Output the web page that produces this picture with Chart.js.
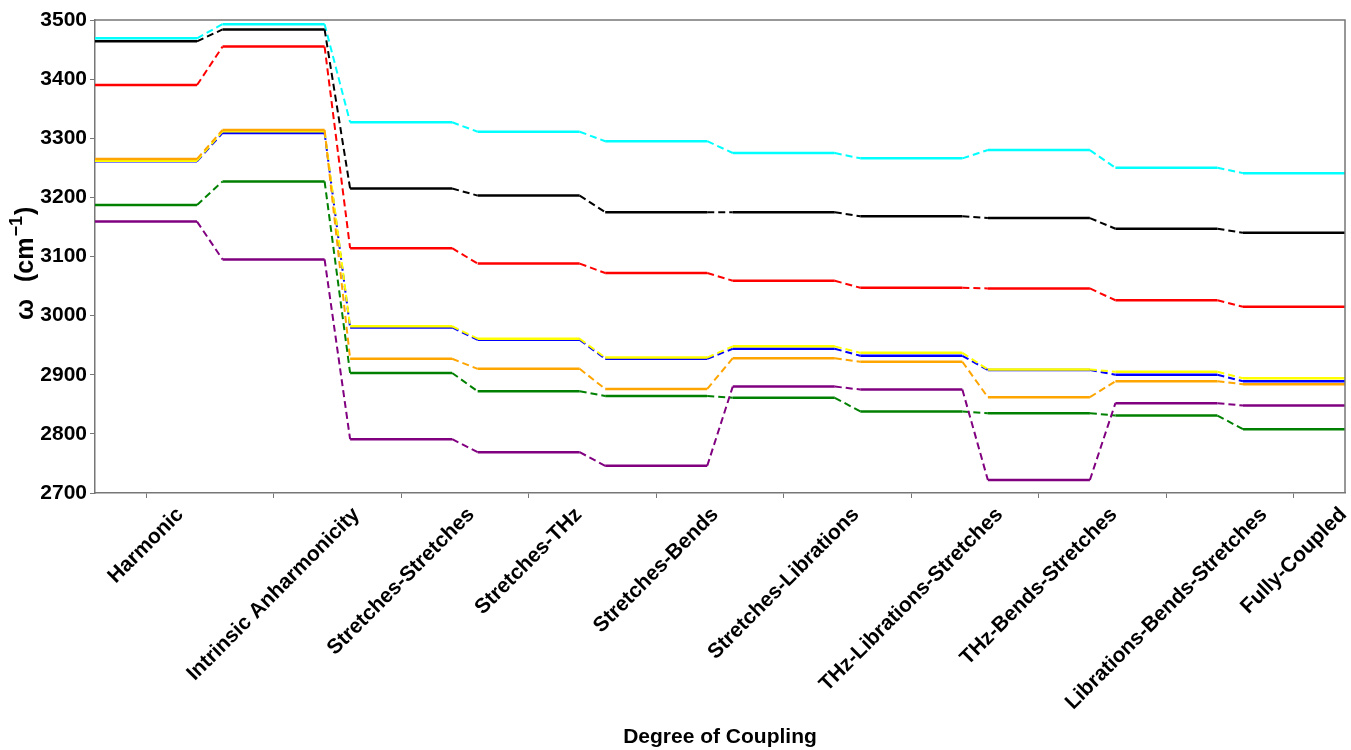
<!DOCTYPE html>
<html>
<head>
<meta charset="utf-8">
<script src="https://cdn.jsdelivr.net/npm/chart.js@4.4.1/dist/chart.umd.min.js"></script>
<style>
  html, body { margin: 0; padding: 0; background: #fff; }
</style>
</head>
<body>
<canvas id="levelsChart" width="1351" height="750"></canvas>
<script>
// categories (x axis) and tick values
const categories = ['Harmonic', 'Intrinsic Anharmonicity', 'Stretches-Stretches', 'Stretches-THz',
  'Stretches-Bends', 'Stretches-Librations', 'THz-Librations-Stretches', 'THz-Bends-Stretches',
  'Librations-Bends-Stretches', 'Fully-Coupled'];
const yTicks = [2700, 2800, 2900, 3000, 3100, 3200, 3300, 3400, 3500];

// frequencies (cm-1) per mode, one value per category
const cyanVals   = [3469, 3493, 3327, 3311, 3295, 3275, 3266, 3280, 3250, 3241];
const blackVals  = [3464, 3484, 3215, 3203, 3175, 3175, 3168, 3165, 3147, 3140];
const redVals    = [3390, 3455, 3114, 3088, 3072, 3059, 3047, 3046, 3026, 3015];
const yellowVals = [3262, 3312, 2982, 2961, 2929, 2948, 2937, 2909, 2905, 2894];
const blueVals   = [3261, 3309, 2980, 2959, 2927, 2944, 2932, 2908, 2900, 2889];
const orangeVals = [3265, 3314, 2927, 2910, 2876, 2928, 2922, 2862, 2889, 2884];
const greenVals  = [3187, 3227, 2903, 2872, 2864, 2861, 2838, 2835, 2831, 2808];
const purpleVals = [3159, 3095, 2791, 2769, 2746, 2880, 2875, 2722, 2852, 2848];

const FONT = "'Liberation Sans', Arial, sans-serif";
const HALF = 0.4; // half width of each level, in category units

// each level becomes a flat piece from i-0.4 to i+0.4, joined by dashed links
function levels(vals) {
  const pts = [];
  vals.forEach((v, i) => {
    pts.push({ x: i - HALF, y: v });
    pts.push({ x: i + HALF, y: v });
  });
  return pts;
}

function series(label, vals, color) {
  return {
    label: label,
    data: levels(vals),
    borderColor: color,
    borderWidth: 2.5,
    pointRadius: 0,
    tension: 0,
    fill: false,
    segment: {
      borderDash: ctx => ctx.p0DataIndex % 2 === 1 ? [7, 4] : undefined,
      borderWidth: ctx => ctx.p0DataIndex % 2 === 1 ? 2 : undefined
    }
  };
}

// first dataset ends up on top
const datasets = [
  series('purple', purpleVals, '#800080'),
  series('green', greenVals, '#008000'),
  series('orange', orangeVals, '#ffa500'),
  series('yellow', yellowVals, '#ffff00'),
  series('blue', blueVals, '#0000ff'),
  series('red', redVals, '#ff0000'),
  series('black', blackVals, '#000000'),
  series('cyan', cyanVals, '#00ffff')
];

// frame on top/right, y title with superscript, category labels centred on ticks
const framePlugin = {
  id: 'framePlugin',
  afterDraw(chart) {
    const { ctx, chartArea } = chart;
    const xs = chart.scales.x;
    ctx.save();
    ctx.strokeStyle = '#777';
    ctx.lineWidth = 1.5;
    ctx.beginPath();
    ctx.moveTo(chartArea.left, chartArea.top);
    ctx.lineTo(chartArea.right, chartArea.top);
    ctx.lineTo(chartArea.right, chartArea.bottom);
    ctx.stroke();

    ctx.fillStyle = '#000';
    ctx.font = 'bold 21px ' + FONT;
    ctx.textAlign = 'center';
    ctx.textBaseline = 'middle';
    const top = chartArea.bottom + 11;
    categories.forEach((c, i) => {
      const w = ctx.measureText(c).width;
      const x = xs.getPixelForValue(i);
      const y = top + (w + 21) * Math.SQRT1_2 / 2;
      ctx.save();
      ctx.translate(x, y);
      ctx.rotate(-Math.PI / 4);
      ctx.fillText(c, 0, 0);
      ctx.restore();
    });

    // y axis title: ω  (cm^-1)
    ctx.save();
    ctx.translate(33, 320);
    ctx.rotate(-Math.PI / 2);
    ctx.textAlign = 'left';
    ctx.textBaseline = 'alphabetic';
    const big = 'bold 25px ' + FONT;
    const small = 'bold 18px ' + FONT;
    ctx.font = big;
    ctx.fillText('ω', 0, 0);
    let px = 38;
    ctx.fillText('(cm', px, 0);
    px += ctx.measureText('(cm').width + 1;
    ctx.font = small;
    ctx.fillText('−1', px, -11);
    px += ctx.measureText('−1').width + 1;
    ctx.font = big;
    ctx.fillText(')', px, 0);
    ctx.restore();

    ctx.restore();
  }
};

const ctx = document.getElementById('levelsChart').getContext('2d');
new Chart(ctx, {
  type: 'line',
  data: { datasets: datasets },
  options: {
    responsive: false,
    animation: false,
    layout: { padding: { left: 10, right: 6, top: 20, bottom: 0 } },
    plugins: {
      legend: { display: false },
      tooltip: { enabled: false }
    },
    scales: {
      x: {
        type: 'linear',
        min: -HALF,
        max: categories.length - 1 + HALF,
        afterBuildTicks: s => { s.ticks = categories.map((c, i) => ({ value: i })); },
        afterFit: s => { s.height = 257; },
        ticks: { display: false },
        grid: { drawOnChartArea: false, drawTicks: true, tickLength: 5, color: '#777' },
        border: { display: true, color: '#777', width: 1.5 },
        title: {
          display: true,
          text: 'Degree of Coupling',
          color: '#000',
          font: { family: FONT, size: 21, weight: 'bold' },
          padding: { top: 0, bottom: 0 }
        }
      },
      y: {
        min: 2700,
        max: 3500,
        afterBuildTicks: s => { s.ticks = yTicks.map(v => ({ value: v })); },
        afterFit: s => { s.width = 85; },
        ticks: {
          color: '#000',
          padding: 3,
          font: { family: FONT, size: 21, weight: 'bold' },
          callback: v => String(v)
        },
        grid: { drawOnChartArea: false, drawTicks: true, tickLength: 5, color: '#777' },
        border: { display: true, color: '#777', width: 1.5 },
        title: { display: false }
      }
    }
  },
  plugins: [framePlugin]
});
</script>
</body>
</html>
